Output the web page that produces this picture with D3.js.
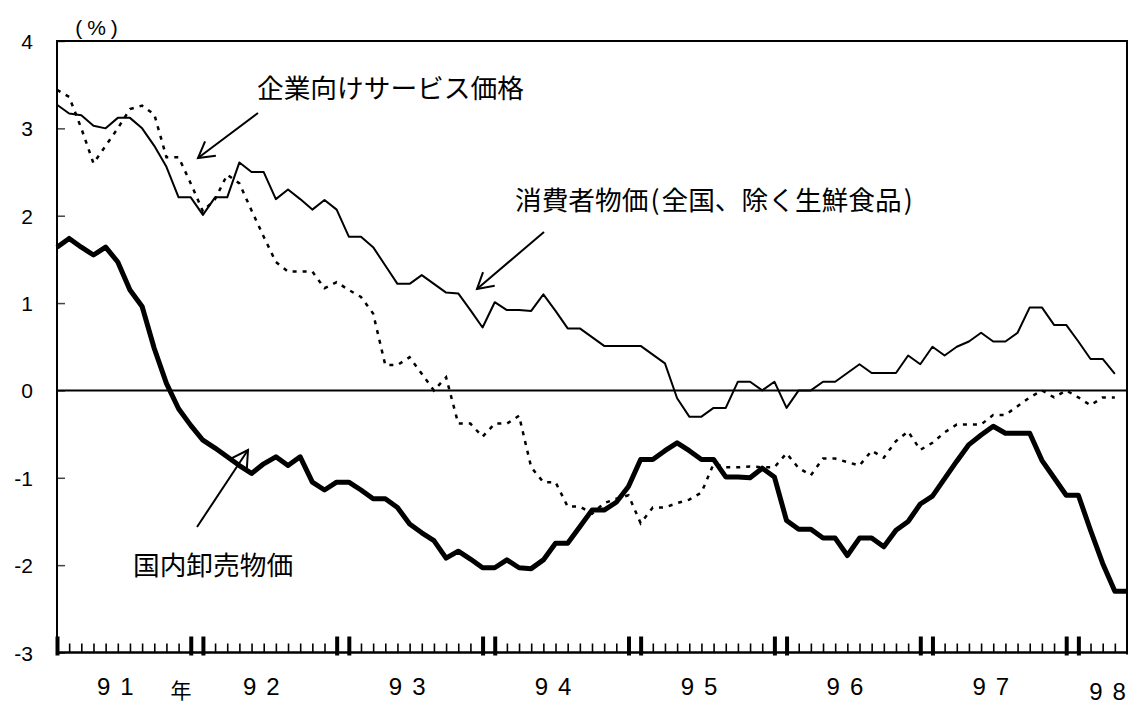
<!DOCTYPE html>
<html>
<head>
<meta charset="utf-8">
<script src="https://cdn.jsdelivr.net/npm/d3@7"></script>
<style>
  html, body { margin: 0; padding: 0; background: #fff; }
  svg { display: block; }
</style>
</head>
<body>
<svg id="chart" width="1136" height="704"></svg>
<script>
// Monthly year-on-year change (%), Jan 1991 onward
const yearLabels = ["91", "92", "93", "94", "95", "96", "97", "98"];
const yTicks = [4, 3, 2, 1, 0, -1, -2, -3];

// 国内卸売物価 (Jan 1991 – May 1998)
const wholesale = [
  1.64, 1.74, 1.64, 1.55, 1.64, 1.47, 1.15, 0.96, 0.48, 0.08, -0.21, -0.40,
  -0.57, -0.66, -0.76, -0.86, -0.95, -0.84, -0.76, -0.86, -0.76, -1.05, -1.14, -1.05,
  -1.05, -1.14, -1.24, -1.24, -1.34, -1.53, -1.63, -1.72, -1.92, -1.84, -1.93, -2.03,
  -2.03, -1.94, -2.03, -2.04, -1.94, -1.75, -1.75, -1.56, -1.37, -1.37, -1.28, -1.10,
  -0.79, -0.79, -0.69, -0.60, -0.69, -0.79, -0.79, -0.99, -0.99, -1.00, -0.89, -0.99,
  -1.49, -1.59, -1.59, -1.69, -1.69, -1.89, -1.69, -1.69, -1.79, -1.60, -1.50, -1.30,
  -1.21, -1.01, -0.81, -0.62, -0.51, -0.41, -0.49, -0.49, -0.49, -0.80, -1.00, -1.20,
  -1.20, -1.60, -1.98, -2.30, -2.30
];

// 消費者物価(全国、除く生鮮食品) (Jan 1991 – Apr 1998)
const consumer = [
  3.27, 3.17, 3.15, 3.03, 3.00, 3.12, 3.12, 3.00, 2.80, 2.56, 2.21, 2.21,
  2.01, 2.21, 2.21, 2.61, 2.50, 2.50, 2.19, 2.30, 2.19, 2.07, 2.18, 2.07,
  1.76, 1.76, 1.64, 1.43, 1.22, 1.22, 1.32, 1.22, 1.12, 1.11, 0.92, 0.72,
  1.01, 0.92, 0.92, 0.91, 1.10, 0.91, 0.71, 0.71, 0.61, 0.51, 0.51, 0.51,
  0.51, 0.41, 0.31, -0.09, -0.30, -0.30, -0.20, -0.20, 0.10, 0.10, 0.00, 0.10,
  -0.20, 0.00, 0.00, 0.10, 0.10, 0.20, 0.30, 0.20, 0.20, 0.20, 0.40, 0.30,
  0.50, 0.40, 0.50, 0.56, 0.66, 0.56, 0.56, 0.66, 0.95, 0.95, 0.75, 0.75,
  0.56, 0.36, 0.36, 0.19
];

// 企業向けサービス価格 (Jan 1991 – Apr 1998)
const services = [
  3.44, 3.36, 3.00, 2.60, 2.80, 3.00, 3.22, 3.26, 3.16, 2.67, 2.67, 2.37,
  2.05, 2.19, 2.47, 2.37, 2.06, 1.76, 1.47, 1.36, 1.36, 1.36, 1.17, 1.24,
  1.15, 1.07, 0.88, 0.29, 0.29, 0.38, 0.19, 0.00, 0.15, -0.38, -0.38, -0.53,
  -0.38, -0.38, -0.29, -0.88, -1.05, -1.05, -1.33, -1.33, -1.41, -1.29, -1.24, -1.20,
  -1.52, -1.34, -1.34, -1.29, -1.25, -1.17, -0.84, -0.88, -0.88, -0.87, -0.88, -0.88,
  -0.72, -0.89, -0.97, -0.78, -0.78, -0.82, -0.86, -0.69, -0.77, -0.58, -0.47, -0.68,
  -0.60, -0.48, -0.39, -0.39, -0.39, -0.28, -0.28, -0.18, -0.08, 0.00, -0.08, 0.00,
  -0.08, -0.17, -0.08, -0.08
];

const svg = d3.select("#chart");
const plotLeft = 57, plotRight = 1127, plotTop = 41, plotBottom = 652.5;
const monthSpan = wholesale.length - 1;

const x = d3.scaleLinear().domain([0, monthSpan]).range([plotLeft, plotRight]);
const y = d3.scaleLinear().domain([-3, 4]).range([plotBottom, plotTop]);

const numFont = "'Liberation Sans', Arial, sans-serif";
const jpFont = "'Noto Sans CJK JP', 'Noto Sans', sans-serif";

// y axis: inward ticks and labels
const yAxis = d3.axisLeft(y).tickValues(yTicks).tickSize(-8).tickPadding(0).tickFormat(d => String(d));
const yG = svg.append("g").attr("transform", `translate(${plotLeft},0)`).call(yAxis);
yG.select(".domain").remove();
yG.selectAll(".tick line").attr("stroke", "#444").attr("stroke-width", 1.5);
yG.selectAll(".tick text")
  .attr("x", 33 - plotLeft)
  .attr("dy", "0.36em")
  .attr("text-anchor", "end")
  .style("font-family", numFont)
  .style("font-size", "21px")
  .attr("fill", "#000");

svg.append("text")
  .attr("x", 99).attr("y", 35)
  .attr("text-anchor", "middle")
  .style("font-family", numFont).style("font-size", "21px")
  .style("letter-spacing", "5px")
  .text("(%)");

// zero line
svg.append("line")
  .attr("x1", plotLeft).attr("x2", plotRight)
  .attr("y1", y(0)).attr("y2", y(0))
  .attr("stroke", "#000").attr("stroke-width", 2);

// month ticks on the bottom axis; year boundaries get a heavy double mark
const monthIdx = d3.range(0, monthSpan + 1);
const heavy = new Set([0]);
for (let k = 1; k * 12 <= monthSpan; k++) { heavy.add(k * 12 - 1); heavy.add(k * 12); }
const xAxis = d3.axisBottom(x).tickValues(monthIdx.filter(i => i < monthSpan)).tickSize(-9).tickFormat("");
const xG = svg.append("g").attr("transform", `translate(0,${plotBottom})`).call(xAxis);
xG.select(".domain").remove();
xG.selectAll(".tick line")
  .attr("stroke", "#000")
  .attr("stroke-width", d => heavy.has(d) ? 4 : 1.6)
  .attr("y1", d => heavy.has(d) ? 3 : 0)
  .attr("y2", d => heavy.has(d) ? -16 : -9);

// frame
svg.append("path")
  .attr("d", `M${plotLeft},${plotBottom}V${plotTop}H${plotRight}V${plotBottom + 2}`)
  .attr("fill", "none").attr("stroke", "#000").attr("stroke-width", 2);
svg.append("line")
  .attr("x1", plotLeft).attr("x2", plotRight + 1)
  .attr("y1", plotBottom).attr("y2", plotBottom)
  .attr("stroke", "#000").attr("stroke-width", 2.5);

// year labels
yearLabels.forEach((lab, k) => {
  const last = k === yearLabels.length - 1;
  const cx = last ? x(86.4) : x(12 * k + 4.8);
  svg.append("text")
    .attr("x", cx + 5).attr("y", last ? 700 : 695)
    .attr("text-anchor", "middle")
    .style("font-family", numFont).style("font-size", "24px")
    .style("letter-spacing", "10px")
    .text(lab);
});
svg.append("text")
  .attr("x", x(10.2)).attr("y", 698)
  .attr("text-anchor", "middle")
  .style("font-family", jpFont).style("font-size", "21px")
  .text("年");

// series
const line = d3.line().x((d, i) => x(i)).y(d => y(d));

svg.append("path").datum(services)
  .attr("d", line).attr("fill", "none")
  .attr("stroke", "#000").attr("stroke-width", 2.5)
  .attr("stroke-dasharray", "4 6");

svg.append("path").datum(consumer)
  .attr("d", line).attr("fill", "none")
  .attr("stroke", "#000").attr("stroke-width", 2)
  .attr("stroke-linejoin", "round");

svg.append("path").datum(wholesale)
  .attr("d", line).attr("fill", "none")
  .attr("stroke", "#000").attr("stroke-width", 5)
  .attr("stroke-linejoin", "round");

// annotation arrows (tail -> tip, open head)
function arrow(x1, y1, x2, y2) {
  const g = svg.append("g").attr("stroke", "#000").attr("stroke-width", 2).attr("fill", "none");
  g.append("line").attr("x1", x1).attr("y1", y1).attr("x2", x2).attr("y2", y2);
  const a = Math.atan2(y1 - y2, x1 - x2), len = 18, spread = Math.PI / 6;
  g.append("path")
    .attr("d", `M${x2 + len * Math.cos(a - spread)},${y2 + len * Math.sin(a - spread)}L${x2},${y2}L${x2 + len * Math.cos(a + spread)},${y2 + len * Math.sin(a + spread)}`);
}
arrow(258, 113, 198, 158);
arrow(544, 232, 477, 289);
arrow(197, 527, 248, 450);

// series labels; half-width brackets get a little side padding
const labels = [
  { parts: ["企業向けサービス価格"], x: 257, y: 98 },
  { parts: ["消費者物価", "(", "全国、除く生鮮食品", ")"], x: 515, y: 210 },
  { parts: ["国内卸売物価"], x: 133, y: 575 }
];
labels.forEach(l => {
  const t = svg.append("text")
    .attr("x", l.x).attr("y", l.y)
    .style("font-family", jpFont).style("font-size", "26.7px");
  l.parts.forEach(p => {
    const bracket = p === "(" || p === ")";
    t.append("tspan").attr("dx", bracket ? 2 : (p === l.parts[0] ? 0 : 2)).text(p);
  });
});
</script>
</body>
</html>
